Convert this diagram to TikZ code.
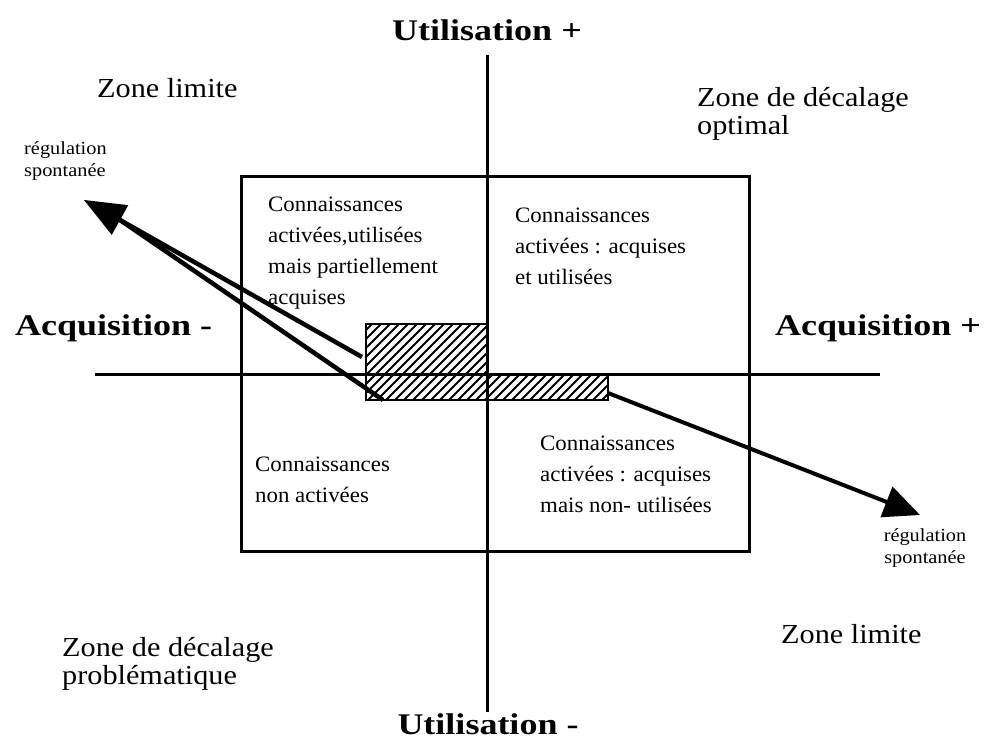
\documentclass[tikz,border=0pt]{standalone}
\usepackage{fontspec}
\setmainfont{Liberation Serif}
\newfontfamily\zonefont[FakeStretch=1.1]{Liberation Serif}
\newfontfamily\axisfont[FakeStretch=1.2]{Liberation Serif}
\newfontfamily\cellfont[FakeStretch=1.04]{Liberation Serif}
\usetikzlibrary{arrows.meta,calc}

\tikzset{
  axisline/.style={line width=3pt},
  framebox/.style={line width=3pt},
  axislabel/.style={font=\axisfont\bfseries\fontsize{30}{34}\selectfont, inner sep=0pt},
  zonelabel/.style={font=\zonefont\fontsize{27.5}{28}\selectfont, align=left, inner sep=0pt},
  reglabel/.style={font=\zonefont\fontsize{18.5}{22}\selectfont, inner sep=0pt},
  celltext/.style={font=\cellfont\fontsize{22}{31}\selectfont, align=left, inner sep=0pt},
  hatchline/.style={line width=2pt},
  hatchedge/.style={line width=2.5pt},
  regline/.style={line width=4pt},
}

\begin{document}
\begin{tikzpicture}[x=1pt,y=-1pt]
  \useasboundingbox (0,0) rectangle (994,752);
  \fill[white] (0,0) rectangle (994,752);

  % overlap zone, hatched, straddling both axes
  \def\overlap{(366,324) -- (487,324) -- (487,374) -- (608,374)
               -- (608,400) -- (366,400) -- cycle}
  \begin{scope}
    \clip \overlap;
    \foreach \k in {0,...,45}
      \draw[hatchline] ({250+9*\k},410) -- ++(100,-100);
  \end{scope}
  \draw[hatchedge] \overlap;

  % frame of the four knowledge cells
  \draw[framebox] (241,176) rectangle (749,551);

  % axes
  \coordinate (vtop) at (487,55);
  \coordinate (vbot) at (487,712);
  \coordinate (hleft) at (95,374);
  \coordinate (hright) at (880,374);
  \draw[axisline] (vtop) -- (vbot);
  \draw[axisline] (hleft) -- (hright);

  % axis labels
  \node[axislabel] (uplus)  at (487,30)  {Utilisation +};
  \node[axislabel] (umin)   at (488,724) {Utilisation -};
  \node[axislabel, anchor=west] (amin)  at (15,328)  {Acquisition -};
  \node[axislabel, anchor=east] (aplus) at (981,328) {Acquisition +};

  % zone labels
  \node[zonelabel, anchor=west] (zl1) at (97,88)   {Zone limite};
  \node[zonelabel, anchor=west] (zo)  at (697,114) {Zone de décalage\\optimal};
  \node[zonelabel, anchor=west] (zl2) at (781,634) {Zone limite};
  \node[zonelabel, anchor=west] (zp)  at (62,664)  {Zone de décalage\\problématique};

  % cell texts
  \node[celltext, anchor=west] (ctl) at (268,253) {Connaissances\\activées,utilisées\\mais partiellement\\acquises};
  \node[celltext, anchor=west] (ctr) at (515,246) {Connaissances\\activées : acquises\\et utilisées};
  \node[celltext, anchor=west] (cbl) at (255,480) {Connaissances\\non activées};
  \node[celltext, anchor=west] (cbr) at (540,474) {Connaissances\\activées : acquises\\mais non- utilisées};

  % spontaneous regulation, upper left: two strokes joining into one head
  \node[reglabel, anchor=west, align=left] (rl) at (24,161) {régulation\\spontanée};
  \coordinate (ltip)  at (84,200);
  \coordinate (lbase) at (120,220);
  \coordinate (lstartA) at (362,357);
  \coordinate (lstartB) at (383,400);
  \draw[regline, line width=4.5pt] (lstartA) -- (lbase);
  \draw[regline, line width=4.5pt] (lstartB) -- (lbase);
  \fill ($(lbase)!17pt!90:(ltip)$) -- (ltip) -- ($(lbase)!17pt!-90:(ltip)$) -- cycle;

  % spontaneous regulation, lower right
  \node[reglabel, align=center] (rr) at (925,548) {régulation\\spontanée};
  \coordinate (rstart) at (608,393);
  \coordinate (rtip)   at (920,515);
  \draw[regline, -{Triangle[length=36pt,width=32pt]}] (rstart) -- (rtip);
\end{tikzpicture}
\end{document}
